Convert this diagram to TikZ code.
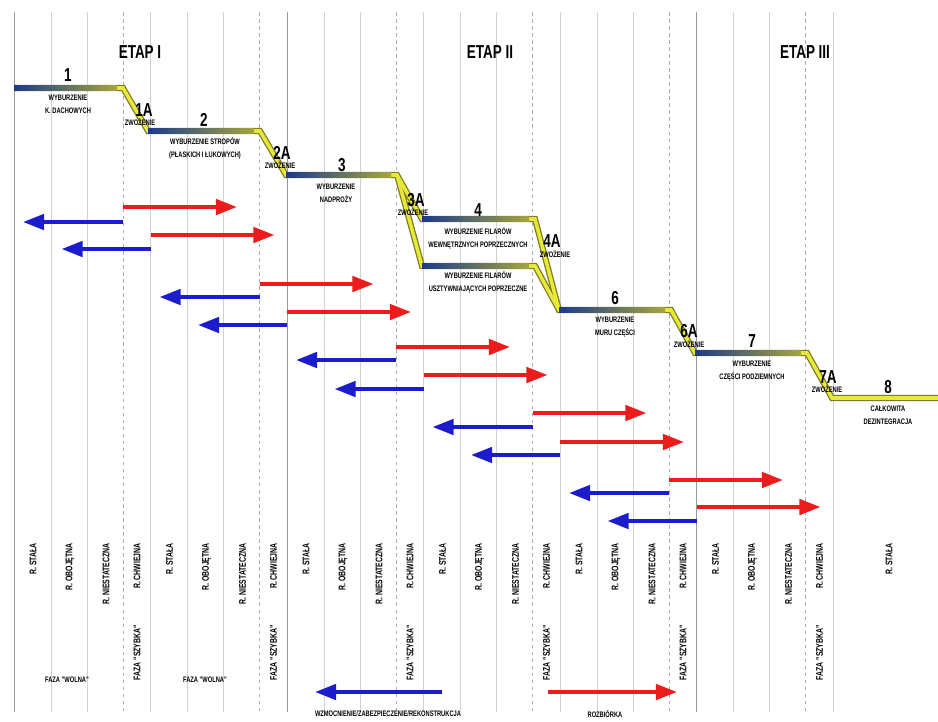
\documentclass[tikz,border=0pt]{standalone}
\usepackage{fontspec}
\usepackage{tikz}
\usetikzlibrary{arrows.meta}
\newfontfamily\narrow[FakeStretch=0.72]{Liberation Sans}
\definecolor{stepblue}{RGB}{28,58,140}
\definecolor{stepolive}{RGB}{165,165,60}
\definecolor{stepyellow}{RGB}{232,232,58}
\definecolor{stepedge}{RGB}{125,125,35}
\definecolor{demred}{RGB}{236,28,28}
\definecolor{demblue}{RGB}{28,28,205}

\begin{document}
\begin{tikzpicture}[x=0.03cm,y=-0.03cm,
    num/.style={font=\narrow\bfseries\fontsize{16}{16}\selectfont,inner sep=0},
    desc/.style={font=\narrow\bfseries\fontsize{6.8}{11}\selectfont,align=center,inner sep=0},
    vlabel/.style={font=\narrow\bfseries\fontsize{8.2}{8.2}\selectfont,rotate=90,anchor=east,inner sep=0},
    stagerule/.style={gray!80,line width=0.7pt},
    subrule/.style={gray!65,dashed,line width=0.5pt},
    gridrule/.style={gray!35,line width=0.4pt},
    stepouter/.style={stepedge,line width=5.2pt},
    stepinner/.style={stepyellow,line width=3pt},
    fwd/.style={demred,line width=3.4pt,-{Triangle[length=18pt,width=13pt]}},
    back/.style={demblue,line width=3.4pt,-{Triangle[length=18pt,width=13pt]}}]
  \fill[white] (0,0) rectangle (938,722);
  \useasboundingbox (0,0) rectangle (938,722);

  % columns
  \foreach \g in {14,150.5,287,423.5,560,696.5} {
    \draw[gridrule] (\g+37,12) -- (\g+37,712);
    \draw[gridrule] (\g+73,12) -- (\g+73,712);
    \draw[subrule] (\g+109,12) -- (\g+109,712);
  }
  \foreach \x in {150.5,423.5,560,833}
    \draw[gridrule] (\x,12) -- (\x,712);
  \foreach \x in {14,287,696.5}
    \draw[stagerule] (\x,12) -- (\x,712);

  \node[num] (E1) at (140,52) {ETAP I};
  \node[num] (E2) at (490,52) {ETAP II};
  \node[num] (E3) at (805,52) {ETAP III};

  % steps
  \coordinate (p0) at (14,88);   \coordinate (p1) at (123,88);
  \coordinate (p2) at (148,131); \coordinate (p3) at (260,131);
  \coordinate (p4) at (286,175); \coordinate (p5) at (397,175);
  \coordinate (p6) at (422,219); \coordinate (p7) at (535,219);
  \coordinate (p8) at (422,266); \coordinate (p9) at (535,266);
  \coordinate (p10) at (559,310); \coordinate (p11) at (671,310);
  \coordinate (p12) at (695,353); \coordinate (p13) at (807,353);
  \coordinate (p14) at (832,398); \coordinate (p15) at (938,398);
  \foreach \s in {stepouter,stepinner} {
    \draw[\s] (p0) -- (p1) -- (p2) -- (p3) -- (p4) -- (p5) -- (p6) -- (p7)
      -- (p10) -- (p11) -- (p12) -- (p13) -- (p14) -- (p15);
    \draw[\s] (p5) -- (p8) -- (p9) -- (p10);
  }
  \foreach \xa/\xb/\y in {14/117/88,148/254/131,286/391/175,422/529/219,
      422/529/266,559/665/310,695/801/353}
    \shade[left color=stepblue,right color=stepolive] (\xa,\y-2.9) rectangle (\xb,\y+2.9);

  \node[num] (n1) at (68,75) {1};
  \node[desc] (d1) at (68,104) {WYBURZENIE\\K. DACHOWYCH};
  \node[num] (n1a) at (144,110) {1A};
  \node[desc] (z1a) at (140,122) {ZWOŻENIE};
  \node[num] (n2) at (204,120) {2};
  \node[desc] (d2) at (205,148) {WYBURZENIE STROPÓW\\(PŁASKICH I ŁUKOWYCH)};
  \node[num] (n2a) at (282,153) {2A};
  \node[desc] (z2a) at (280,165) {ZWOŻENIE};
  \node[num] (n3) at (342,165) {3};
  \node[desc] (d3) at (336,193) {WYBURZENIE\\NADPROŻY};
  \node[num] (n3a) at (416,200) {3A};
  \node[desc] (z3a) at (413,212) {ZWOŻENIE};
  \node[num] (n4) at (478,210) {4};
  \node[desc] (d4) at (478,238) {WYBURZENIE FILARÓW\\WEWNĘTRZNYCH POPRZECZNYCH};
  \node[num] (n4a) at (552,241) {4A};
  \node[desc] (z4a) at (555,254) {ZWOŻENIE};
  \node[desc] (d5) at (478,282) {WYBURZENIE FILARÓW\\USZTYWNIAJĄCYCH POPRZECZNE};
  \node[num] (n6) at (615,298) {6};
  \node[desc] (d6) at (615,327) {WYBURZENIE\\MURU CZĘŚCI};
  \node[num] (n6a) at (689,331) {6A};
  \node[desc] (z6a) at (689,344) {ZWOŻENIE};
  \node[num] (n7) at (752,341) {7};
  \node[desc] (d7) at (752,371) {WYBURZENIE\\CZĘŚCI PODZIEMNYCH};
  \node[num] (n7a) at (828,377) {7A};
  \node[desc] (z7a) at (827,389) {ZWOŻENIE};
  \node[num] (n8) at (888,387) {8};
  \node[desc] (d8) at (888,415) {CAŁKOWITA\\DEZINTEGRACJA};

  % arrows
  \foreach \d/\g/\ya/\yb/\yc/\yd [count=\i] in {123/150.5/207/222/235/249,
      259.5/287/284/297/312/325,396/423.5/347/360/375/389,
      532.5/560/413/427/442/455,669/696.5/480/493/507/521} {
    \coordinate (ra\i) at (\d,\ya);  \coordinate (rb\i) at (\d+114,\ya);
    \coordinate (ba\i) at (\d,\yb);  \coordinate (bb\i) at (\d-100,\yb);
    \coordinate (rc\i) at (\g,\yc);  \coordinate (rd\i) at (\g+124,\yc);
    \coordinate (bc\i) at (\g,\yd);  \coordinate (bd\i) at (\g-89,\yd);
    \draw[fwd] (ra\i) -- (rb\i);
    \draw[back] (ba\i) -- (bb\i);
    \draw[fwd] (rc\i) -- (rd\i);
    \draw[back] (bc\i) -- (bd\i);
  }

  % phases
  \foreach \g [count=\i] in {14,150.5,287,423.5,560,696.5} {
    \node[vlabel] (rs\i) at (\g+19,543) {R. STAŁA};
    \node[vlabel] (ro\i) at (\g+56,543) {R. OBOJĘTNA};
    \node[vlabel] (rn\i) at (\g+92,543) {R. NIESTATECZNA};
    \node[vlabel] (rw\i) at (\g+123,543) {R. CHWIEJNA};
    \node[vlabel] (fs\i) at (\g+123,625) {FAZA "SZYBKA"};
  }
  \node[vlabel] (rs7) at (889,543) {R. STAŁA};
  \node[desc] (fw1) at (67,680) {FAZA "WOLNA"};
  \node[desc] (fw2) at (205,680) {FAZA "WOLNA"};

  \coordinate (wz0) at (442,692); \coordinate (wz1) at (315,692);
  \coordinate (rz0) at (548,692); \coordinate (rz1) at (677,692);
  \draw[back] (wz0) -- (wz1);
  \draw[fwd] (rz0) -- (rz1);
  \node[desc] (wzl) at (388,714) {WZMOCNIENIE/ZABEZPIECZENIE/REKONSTRUKCJA};
  \node[desc] (rzl) at (605,714) {ROZBIÓRKA};
\end{tikzpicture}
\end{document}
